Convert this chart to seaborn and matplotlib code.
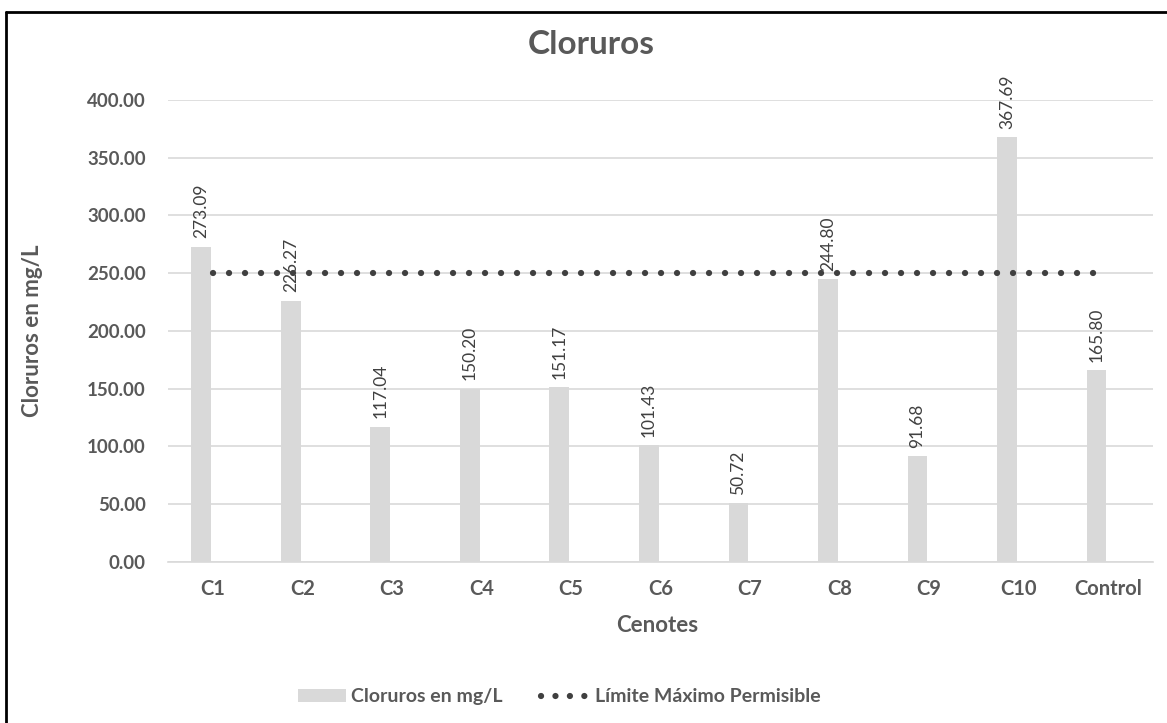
import matplotlib
matplotlib.use("Agg")
import matplotlib.pyplot as plt
from matplotlib.lines import Line2D
from matplotlib.patches import Patch
import seaborn as sns
import pandas as pd

cenotes = ["C1", "C2", "C3", "C4", "C5", "C6", "C7", "C8", "C9", "C10", "Control"]
cloruros = [273.09, 226.27, 117.04, 150.20, 151.17, 101.43, 50.72, 244.80, 91.68, 367.69, 165.80]
limite = [250.0] * len(cenotes)
yticks = [0, 50, 100, 150, 200, 250, 300, 350, 400]

sns.set_theme(style="white")
plt.rcParams["font.family"] = ["Lato", "DejaVu Sans"]

TEXT = "#595959"
BAR = "#D9D9D9"
DOT = "#404040"

df = pd.DataFrame({"Cenote": cenotes, "Cloruros": cloruros, "Limite": limite})

fig = plt.figure(figsize=(11.67, 7.23), dpi=100)
ax = fig.add_axes([0.144, 0.2227, 0.844, 0.639])

sns.barplot(data=df, x="Cenote", y="Cloruros", color=BAR, width=0.22,
            saturation=1, ax=ax, zorder=2)
# shift bars slightly left of each category centre
for p in ax.patches:
    p.set_x(p.get_x() - 0.13)
    p.set_edgecolor("none")

# permissible limit as a dotted line
DOTSTYLE = (0, (0.01, 2.55))
sns.lineplot(data=df, x="Cenote", y="Limite", ax=ax, color=DOT, linewidth=4.5,
             zorder=3)
line = ax.get_lines()[-1]
line.set_linestyle(DOTSTYLE)
line.set_dash_capstyle("round")

for p, v in zip(ax.patches, cloruros):
    ax.annotate(f"{v:.2f}", (p.get_x() + p.get_width() / 2, v),
                xytext=(0, 6), textcoords="offset points", rotation=90,
                ha="center", va="bottom", fontsize=12.5, color=DOT)

ax.set_ylim(0, 400)
ax.set_xlim(-0.5, len(cenotes) - 0.5)
ax.set_yticks(yticks)
ax.set_yticklabels([f"{t:.2f}" for t in yticks])
ax.yaxis.grid(True, color=BAR, linewidth=1.2, zorder=0)
ax.set_axisbelow(True)
for s in ["top", "right", "left"]:
    ax.spines[s].set_visible(False)
ax.spines["bottom"].set_color(BAR)
ax.spines["bottom"].set_linewidth(1.2)
ax.tick_params(axis="both", length=0, colors=TEXT)
ax.tick_params(axis="x", labelsize=14.5, pad=12)
ax.tick_params(axis="y", labelsize=13.5, pad=16)
for lab in ax.get_xticklabels() + ax.get_yticklabels():
    lab.set_fontweight("bold")

ax.set_xlabel("Cenotes", fontsize=16, fontweight="bold", color=TEXT)
ax.set_ylabel("Cloruros en mg/L", fontsize=16, fontweight="bold", color=TEXT)
ax.xaxis.set_label_coords(0.497, -0.115)
ax.yaxis.set_label_coords(-0.127, 0.5)

fig.text(0.507, 0.938, "Cloruros", ha="center", va="center", fontsize=24,
         fontweight="bold", color=TEXT)

handles = [Patch(facecolor=BAR, edgecolor="none"),
           Line2D([0], [0], linestyle=(0, (0.01, 2.3)), linewidth=4.5,
                  dash_capstyle="round", color=DOT)]
leg = fig.legend(handles, ["Cloruros en mg/L", "Límite Máximo Permisible"],
                 loc="center", bbox_to_anchor=(0.479, 0.036), ncol=2, frameon=False,
                 handlelength=2.5, handleheight=0.6, columnspacing=2.0, handletextpad=0.25,
                 prop={"size": 14, "weight": "bold"})
for t in leg.get_texts():
    t.set_color(TEXT)

# outer frame on the top and left edges
fig.add_artist(Line2D([6 / 1167, 1.0], [1 - 12 / 723, 1 - 12 / 723],
                      transform=fig.transFigure, color="black", linewidth=2))
fig.add_artist(Line2D([6 / 1167, 6 / 1167], [0.0, 1 - 12 / 723],
                      transform=fig.transFigure, color="black", linewidth=2))

fig.savefig("out.png", dpi=100, facecolor="white")
